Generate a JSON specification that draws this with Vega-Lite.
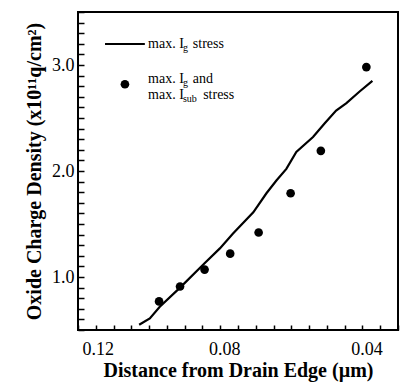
{
  "$schema": "https://vega.github.io/schema/vega-lite/v6.json",
  "width": 320,
  "height": 318,
  "autosize": {"type": "none"},
  "padding": {"left": 78, "top": 12, "right": 6, "bottom": 59},
  "background": "white",
  "config": {
    "view": {"stroke": "#000", "strokeWidth": 2},
    "font": "Liberation Serif",
    "axis": {
      "grid": false,
      "domain": false,
      "ticks": true,
      "tickColor": "#000",
      "tickWidth": 1.5,
      "tickOpacity": 1,
      "zindex": 1,
      "labelFont": "Liberation Serif",
      "labelFontSize": 18,
      "labelColor": "#000",
      "titleFont": "Liberation Serif",
      "titleFontSize": 20,
      "titleFontWeight": "bold",
      "titleColor": "#000"
    }
  },
  "datasets": {
    "curve": [
      {"d": 0.1028, "q": 0.55},
      {"d": 0.0998, "q": 0.61},
      {"d": 0.097, "q": 0.72},
      {"d": 0.0913, "q": 0.9},
      {"d": 0.0844, "q": 1.13},
      {"d": 0.0801, "q": 1.27},
      {"d": 0.0764, "q": 1.41},
      {"d": 0.0707, "q": 1.61},
      {"d": 0.067, "q": 1.79},
      {"d": 0.0642, "q": 1.91},
      {"d": 0.0614, "q": 2.02},
      {"d": 0.0586, "q": 2.18},
      {"d": 0.0539, "q": 2.32},
      {"d": 0.0506, "q": 2.45},
      {"d": 0.0474, "q": 2.57},
      {"d": 0.0445, "q": 2.64},
      {"d": 0.0408, "q": 2.75},
      {"d": 0.0372, "q": 2.85}
    ],
    "points": [
      {"d": 0.0972, "q": 0.77},
      {"d": 0.0913, "q": 0.91},
      {"d": 0.0844, "q": 1.07},
      {"d": 0.0772, "q": 1.22},
      {"d": 0.0692, "q": 1.42},
      {"d": 0.0602, "q": 1.79},
      {"d": 0.0517, "q": 2.19},
      {"d": 0.0389, "q": 2.98}
    ],
    "legendLine": [{"d": 0.1124, "d2": 0.1012, "q": 3.198}],
    "legendDot": [{"d": 0.1068, "q": 2.818}],
    "legendText": [
      {"d": 0.1003, "q": 3.198, "t": "max. I"},
      {"d": 0.0877, "q": 3.198, "t": "stress"},
      {"d": 0.1003, "q": 2.868, "t": "max. I"},
      {"d": 0.0877, "q": 2.868, "t": "and"},
      {"d": 0.1003, "q": 2.717, "t": "max. I"},
      {"d": 0.0848, "q": 2.717, "t": "stress"}
    ],
    "legendSub": [
      {"d": 0.0905, "q": 3.198, "t": "g"},
      {"d": 0.0905, "q": 2.868, "t": "g"},
      {"d": 0.0905, "q": 2.717, "t": "sub"}
    ]
  },
  "encoding": {
    "x": {
      "field": "d", "type": "quantitative",
      "scale": {"domain": [0.03, 0.12], "reverse": true, "nice": false, "zero": false},
      "axis": {
        "title": "Distance from Drain Edge (µm)",
        "values": [0.03, 0.035, 0.04, 0.045, 0.05, 0.055, 0.06, 0.065, 0.07, 0.075, 0.08, 0.085, 0.09, 0.095, 0.1, 0.105, 0.11, 0.115, 0.12],
        "labelExpr": "abs(datum.value-0.12)<1e-6 || abs(datum.value-0.08)<1e-6 || abs(datum.value-0.04)<1e-6 ? format(datum.value, '.2f') : ''",
        "tickSize": -5,
        "labelPadding": 15,
        "labelOffset": 4,
        "titlePadding": 2
      }
    },
    "y": {
      "field": "q", "type": "quantitative",
      "scale": {"domain": [0.5, 3.5], "nice": false, "zero": false},
      "axis": {
        "title": "Oxide Charge Density (x10¹¹q/cm²)",
        "values": [0.5, 0.6, 0.7, 0.8, 0.9, 1, 1.1, 1.2, 1.3, 1.4, 1.5, 1.6, 1.7, 1.8, 1.9, 2, 2.1, 2.2, 2.3, 2.4, 2.5, 2.6, 2.7, 2.8, 2.9, 3, 3.1, 3.2, 3.3, 3.4, 3.5],
        "labelExpr": "datum.value == 1 || datum.value == 2 || datum.value == 3 ? format(datum.value, '.1f') : ''",
        "tickSize": -6,
        "labelPadding": 10,
        "titlePadding": 7
      }
    }
  },
  "layer": [
    {
      "data": {"name": "curve"},
      "mark": {"type": "line", "color": "#000", "strokeWidth": 2.2}
    },
    {
      "data": {"name": "points"},
      "mark": {"type": "circle", "color": "#000", "opacity": 1, "size": 75}
    },
    {
      "data": {"name": "legendLine"},
      "mark": {"type": "rule", "color": "#000", "strokeWidth": 2},
      "encoding": {"x2": {"field": "d2"}}
    },
    {
      "data": {"name": "legendDot"},
      "mark": {"type": "circle", "color": "#000", "opacity": 1, "size": 75}
    },
    {
      "data": {"name": "legendText"},
      "mark": {"type": "text", "align": "left", "baseline": "middle", "fontSize": 14, "font": "Liberation Serif", "color": "#000"},
      "encoding": {"text": {"field": "t"}}
    },
    {
      "data": {"name": "legendSub"},
      "mark": {"type": "text", "align": "left", "baseline": "middle", "fontSize": 10, "dy": 4, "font": "Liberation Serif", "color": "#000"},
      "encoding": {"text": {"field": "t"}}
    }
  ]
}
